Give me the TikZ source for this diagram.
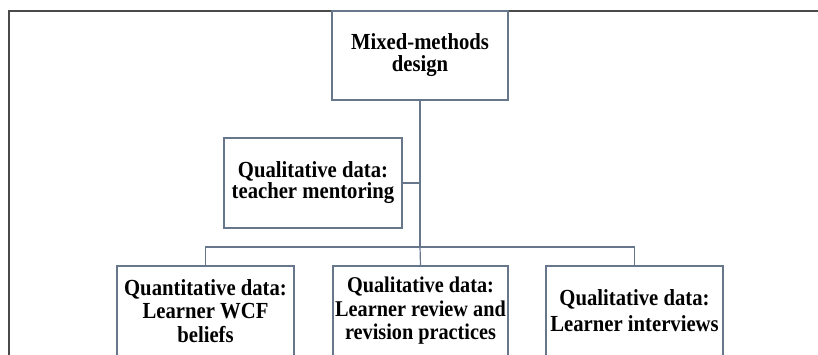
\documentclass[tikz,border=0pt]{standalone}
\usepackage{fontspec}
\setmainfont[FakeStretch=0.9]{Liberation Serif}
\usepackage{tikz}

\definecolor{framegray}{HTML}{4A4A4A}
\definecolor{slateline}{HTML}{66778C}
\setlength{\lineskiplimit}{-20pt}

\begin{document}
\begin{tikzpicture}[x=1pt, y=-1pt,
  font=\bfseries,
  stagebox/.style={draw=slateline, line width=1.2pt, align=center, inner sep=1pt, minimum height=90pt},
  link/.style={draw=slateline, line width=1.2pt}]
  \useasboundingbox (0,0) rectangle (818,354);
  \clip (0,0) rectangle (818,354);
  \draw[framegray, line width=1.6pt] (9,380) -- (9,11) -- (830,11);
  \node[stagebox, minimum width=176pt, minimum height=89pt, font=\fontsize{23}{22}\selectfont\bfseries] (design) at (420,55.5) {Mixed-methods\\design};
  \node[stagebox, minimum width=178pt, font=\fontsize{23}{21}\selectfont\bfseries] (mentor) at (313,183) {Qualitative data:\\teacher mentoring};
  \node[stagebox, minimum width=177pt, font=\fontsize{23}{23.5}\selectfont\bfseries] (wcf) at (205.5,311) {Quantitative data:\\Learner WCF\\beliefs};
  \node[stagebox, minimum width=175pt, font=\fontsize{22.5}{23.5}\selectfont\bfseries] (review) at (420.5,311) {Qualitative data:\\Learner review and\\revision practices};
  \node[stagebox, minimum width=177pt, font=\fontsize{23}{26}\selectfont\bfseries] (interv) at (634.5,311) {Qualitative data:\\Learner interviews};
  \coordinate (split) at (420,247);
  \draw[link] (design) -- (split);
  \draw[link] (mentor.east) -- (mentor.east -| split);
  \draw[link] (wcf.north) |- (split) -| (interv.north);
  \draw[link] (split) -- (review.north);
\end{tikzpicture}
\end{document}
